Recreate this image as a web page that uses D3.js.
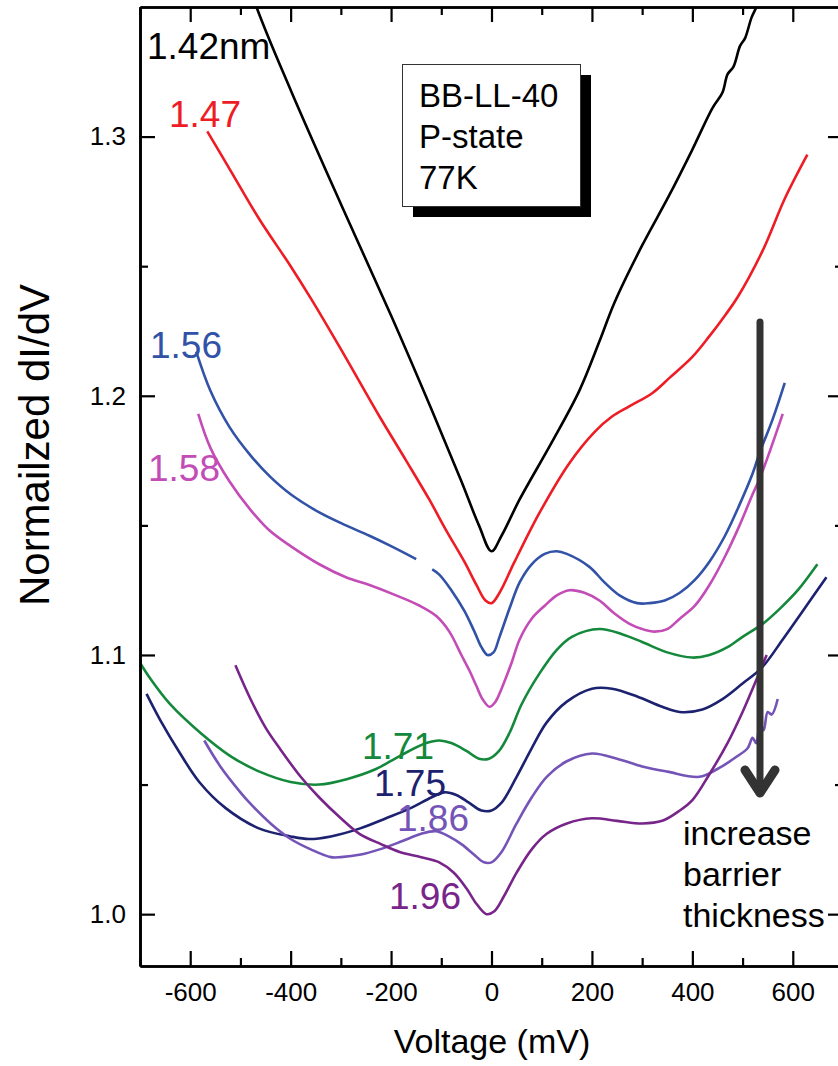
<!DOCTYPE html>
<html>
<head>
<meta charset="utf-8">
<script src="https://cdn.jsdelivr.net/npm/d3@7/dist/d3.min.js"></script>
<style>
  html, body { margin: 0; padding: 0; background: #fff; }
  svg { display: block; font-family: "Liberation Sans", Arial, sans-serif; }
</style>
</head>
<body>
<svg id="chart" width="838" height="1066"></svg>
<script>
// Normalized dI/dV spectra (offset-stacked) vs bias voltage, one per barrier thickness.
const xTicks = [-600, -400, -200, 0, 200, 400, 600];
const xMinor = [-700, -500, -300, -100, 100, 300, 500, 700];
const yTicks = [1.0, 1.1, 1.2, 1.3];
const yMinor = [1.05, 1.15, 1.25];

const curve142 = [[-520,1.381],[-468,1.350],[-400,1.318],[-300,1.274],[-200,1.231],[-120,1.195],[-60,1.167],[-25,1.150],[0,1.140],[20,1.146],[56,1.160],[120,1.182],[175,1.202],[215,1.221],[245,1.236],[300,1.258],[353,1.277],[400,1.295],[440,1.311],[460,1.317],[470,1.324],[482,1.327],[495,1.335],[505,1.338],[518,1.346],[530,1.351],[580,1.376]];
const curve147 = [[-566,1.302],[-520,1.287],[-462,1.268],[-400,1.250],[-358,1.237],[-300,1.218],[-223,1.192],[-170,1.175],[-124,1.160],[-90,1.148],[-54,1.136],[-30,1.127],[-12,1.121],[0,1.120],[16,1.124],[46,1.136],[96,1.155],[155,1.174],[205,1.186],[240,1.192],[275,1.196],[320,1.201],[355,1.207],[400,1.215],[434,1.223],[465,1.231],[490,1.238],[540,1.256],[584,1.276],[629,1.293]];
const curve156 = [[-588,1.217],[-560,1.202],[-522,1.188],[-480,1.177],[-442,1.169],[-400,1.162],[-343,1.155],[-290,1.150],[-243,1.146],[-200,1.142],[-150,1.137],null,[-118,1.133],[-104,1.131],[-80,1.125],[-54,1.117],[-34,1.109],[-20,1.103],[-8,1.100],[4,1.101],[16,1.107],[36,1.118],[56,1.128],[80,1.135],[106,1.139],[130,1.140],[150,1.139],[195,1.134],[225,1.128],[255,1.123],[290,1.120],[315,1.120],[345,1.121],[375,1.124],[405,1.129],[434,1.136],[465,1.146],[494,1.158],[520,1.170],[534,1.178],[560,1.191],[584,1.205]];
const curve158 = [[-584,1.193],[-560,1.180],[-522,1.167],[-480,1.156],[-442,1.148],[-400,1.142],[-343,1.135],[-290,1.130],[-243,1.127],[-190,1.123],[-143,1.119],[-110,1.115],[-84,1.109],[-60,1.100],[-44,1.094],[-30,1.088],[-18,1.083],[-4,1.080],[8,1.082],[20,1.087],[40,1.097],[56,1.106],[80,1.114],[106,1.119],[130,1.123],[155,1.125],[185,1.124],[215,1.121],[245,1.116],[275,1.112],[300,1.110],[325,1.109],[350,1.110],[375,1.114],[405,1.119],[434,1.127],[465,1.138],[494,1.150],[520,1.162],[534,1.168],[555,1.179],[580,1.193]];
const curve171 = [[-700,1.097],[-680,1.091],[-640,1.081],[-580,1.070],[-520,1.061],[-462,1.055],[-400,1.051],[-343,1.050],[-290,1.052],[-230,1.056],[-183,1.061],[-130,1.066],[-104,1.067],[-80,1.066],[-50,1.063],[-25,1.060],[-5,1.060],[15,1.063],[36,1.070],[60,1.081],[96,1.093],[130,1.102],[160,1.107],[215,1.110],[260,1.108],[300,1.105],[350,1.101],[400,1.099],[434,1.100],[470,1.103],[500,1.107],[540,1.112],[575,1.118],[610,1.125],[649,1.135]];
const curve175 = [[-687,1.085],[-660,1.075],[-620,1.062],[-582,1.051],[-530,1.041],[-462,1.033],[-400,1.030],[-363,1.029],[-320,1.030],[-263,1.033],[-210,1.037],[-160,1.041],[-120,1.045],[-94,1.047],[-70,1.046],[-45,1.043],[-20,1.040],[0,1.040],[20,1.043],[50,1.053],[80,1.064],[110,1.074],[150,1.082],[200,1.087],[240,1.087],[290,1.084],[340,1.080],[375,1.078],[420,1.079],[460,1.083],[500,1.089],[538,1.095],[580,1.106],[620,1.117],[667,1.130]];
const curve186 = [[-572,1.067],[-540,1.057],[-500,1.047],[-482,1.043],[-440,1.035],[-400,1.029],[-360,1.025],[-320,1.022],[-300,1.022],[-260,1.023],[-223,1.025],[-180,1.028],[-140,1.031],[-110,1.032],[-85,1.030],[-60,1.027],[-35,1.023],[-15,1.020],[0,1.020],[20,1.024],[50,1.035],[80,1.045],[110,1.053],[150,1.059],[200,1.062],[250,1.060],[300,1.057],[350,1.055],[414,1.053],[450,1.056],[490,1.061],[510,1.064],[520,1.068],[527,1.066],[535,1.073],[542,1.071],[550,1.078],[558,1.077],[570,1.083]];
const curve196 = [[-510,1.096],[-480,1.083],[-450,1.072],[-422,1.064],[-380,1.053],[-343,1.045],[-300,1.037],[-263,1.031],[-220,1.027],[-183,1.024],[-140,1.022],[-104,1.020],[-75,1.016],[-50,1.010],[-30,1.004],[-10,1.000],[5,1.001],[25,1.007],[50,1.016],[80,1.025],[110,1.031],[150,1.035],[200,1.037],[250,1.036],[300,1.035],[340,1.036],[375,1.040],[400,1.044],[434,1.054],[470,1.066],[500,1.078],[520,1.087],[548,1.100]];

const seriesNames = ["1.42nm", "1.47", "1.56", "1.58", "1.71", "1.75", "1.86", "1.96"];
const seriesColors = ["#000000", "#ee1c24", "#3152a6", "#c34cb6", "#14893c", "#1c2270", "#7554b8", "#78258a"];
const seriesData = [curve142, curve147, curve156, curve158, curve171, curve175, curve186, curve196];
const labelPos = [[147, 59], [169, 127], [150, 358], [148, 481], [362, 759], [374, 796], [397, 831], [389, 909]];

const infoLines = ["BB-LL-40", "P-state", "77K"];
const noteLines = ["increase", "barrier", "thickness"];

const svg = d3.select("#chart");
const plotLeft = 140, plotRight = 843, plotTop = 7, plotBottom = 966;

const x = d3.scaleLinear().domain([-700, 700]).range([plotLeft, plotRight]);
const y = d3.scaleLinear().domain([0.98, 1.35]).range([plotBottom, plotTop]);

svg.append("defs").append("clipPath").attr("id", "plotclip")
  .append("rect").attr("x", plotLeft).attr("y", plotTop)
  .attr("width", plotRight - plotLeft).attr("height", plotBottom - plotTop);

// curves
const line = d3.line()
  .defined(d => d !== null)
  .x(d => x(d[0])).y(d => y(d[1]))
  .curve(d3.curveCatmullRom.alpha(0.5));

const curves = svg.append("g").attr("clip-path", "url(#plotclip)");
seriesData.forEach((data, i) => {
  curves.append("path")
    .attr("d", line(data))
    .attr("fill", "none")
    .attr("stroke", seriesColors[i])
    .attr("stroke-width", 2.6)
    .attr("stroke-linejoin", "round");
});

// axes: ticks pointing inward on all four sides
function styleAxis(g) {
  g.selectAll(".domain").attr("stroke", "#000").attr("stroke-width", 2.6);
  g.selectAll(".tick line").attr("stroke", "#000").attr("stroke-width", 2.2);
  g.selectAll("text").attr("fill", "#000").attr("font-size", 26)
    .attr("font-family", "'Liberation Sans', Arial, sans-serif");
}
const fmtX = d => String(d);
const fmtY = d => d.toFixed(1);

svg.append("g").attr("transform", `translate(0,${plotBottom})`)
  .call(d3.axisBottom(x).tickValues(xTicks).tickFormat(fmtX).tickSize(-15).tickSizeOuter(0).tickPadding(17))
  .call(styleAxis);
svg.append("g").attr("transform", `translate(0,${plotBottom})`)
  .call(d3.axisBottom(x).tickValues(xMinor).tickFormat("").tickSize(-8).tickSizeOuter(0))
  .call(styleAxis);
svg.append("g").attr("transform", `translate(0,${plotTop})`)
  .call(d3.axisTop(x).tickValues(xTicks).tickFormat("").tickSize(-15).tickSizeOuter(0))
  .call(styleAxis);
svg.append("g").attr("transform", `translate(0,${plotTop})`)
  .call(d3.axisTop(x).tickValues(xMinor).tickFormat("").tickSize(-8).tickSizeOuter(0))
  .call(styleAxis);

svg.append("g").attr("transform", `translate(${plotLeft},0)`)
  .call(d3.axisLeft(y).tickValues(yTicks).tickFormat(fmtY).tickSize(-15).tickSizeOuter(0).tickPadding(14))
  .call(styleAxis);
svg.append("g").attr("transform", `translate(${plotLeft},0)`)
  .call(d3.axisLeft(y).tickValues(yMinor).tickFormat("").tickSize(-8).tickSizeOuter(0))
  .call(styleAxis);
svg.append("g").attr("transform", `translate(${plotRight},0)`)
  .call(d3.axisRight(y).tickValues(yTicks).tickFormat("").tickSize(-15).tickSizeOuter(0))
  .call(styleAxis);
svg.append("g").attr("transform", `translate(${plotRight},0)`)
  .call(d3.axisRight(y).tickValues(yMinor).tickFormat("").tickSize(-8).tickSizeOuter(0))
  .call(styleAxis);

// axis titles
svg.append("text")
  .attr("x", 492).attr("y", 1053)
  .attr("text-anchor", "middle").attr("font-size", 34)
  .text("Voltage (mV)");
svg.append("text")
  .attr("transform", "translate(49,445) rotate(-90)")
  .attr("text-anchor", "middle").attr("font-size", 42)
  .text("Normailzed dI/dV");

// curve labels
seriesNames.forEach((name, i) => {
  svg.append("text")
    .attr("x", labelPos[i][0]).attr("y", labelPos[i][1])
    .attr("font-size", 37)
    .attr("fill", seriesColors[i])
    .text(name);
});

// info box with drop shadow
const box = svg.append("g");
box.append("rect").attr("x", 413).attr("y", 75).attr("width", 178).attr("height", 142).attr("fill", "#000");
box.append("rect").attr("x", 402.5).attr("y", 64.5).attr("width", 178).attr("height", 142)
  .attr("fill", "#fff").attr("stroke", "#333").attr("stroke-width", 1);
infoLines.forEach((t, i) => {
  box.append("text").attr("x", 419).attr("y", 107 + i * 41)
    .attr("font-size", 33).attr("fill", "#000").text(t);
});

// arrow and note
const arrow = svg.append("g").attr("stroke", "#333").attr("fill", "none").attr("stroke-linecap", "round");
arrow.append("line").attr("x1", 760).attr("y1", 322).attr("x2", 760).attr("y2", 790).attr("stroke-width", 7);
arrow.append("path").attr("d", "M745,770 L760,793 L775,770").attr("stroke-width", 9).attr("stroke-linejoin", "round");

noteLines.forEach((t, i) => {
  svg.append("text").attr("x", 683).attr("y", 845 + i * 41)
    .attr("font-size", 34).attr("fill", "#000").text(t);
});
</script>
</body>
</html>
